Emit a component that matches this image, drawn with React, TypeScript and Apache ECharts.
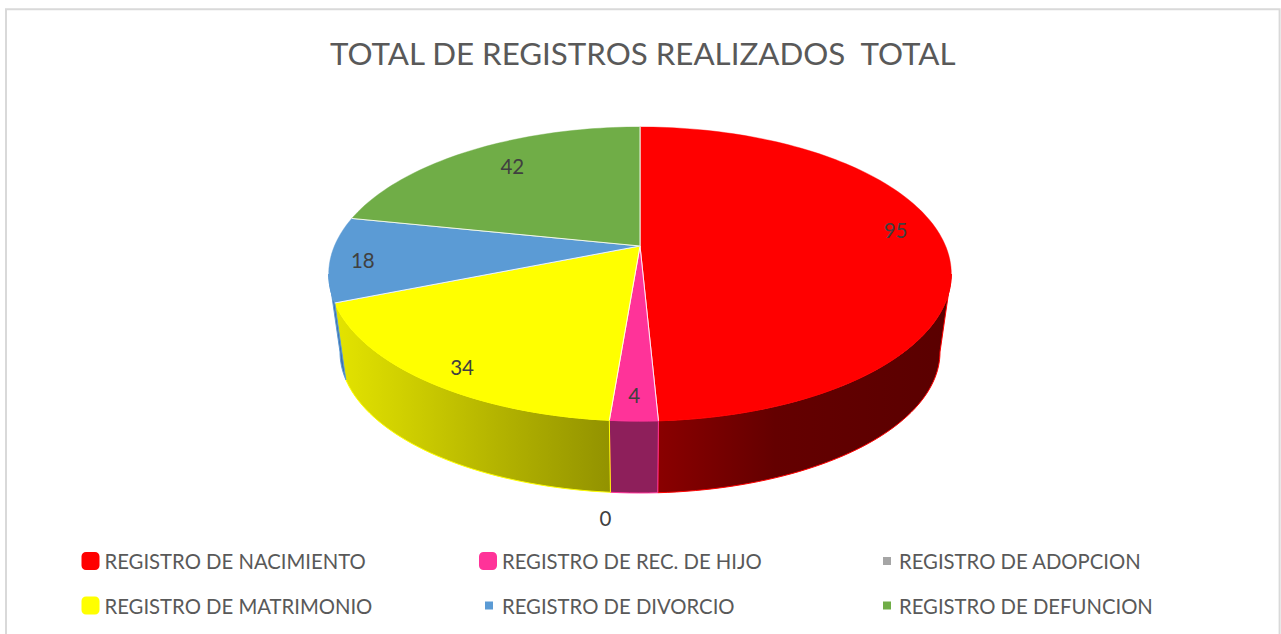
import React, { useEffect, useRef } from "react";
import * as echarts from "echarts";

const titleText = "TOTAL DE REGISTROS REALIZADOS  TOTAL";
const categories = [
  "REGISTRO DE NACIMIENTO",
  "REGISTRO DE REC. DE HIJO",
  "REGISTRO DE ADOPCION",
  "REGISTRO DE MATRIMONIO",
  "REGISTRO DE DIVORCIO",
  "REGISTRO DE DEFUNCION",
];
const values = [95, 4, 0, 34, 18, 42];
const colors = ["#ff0000", "#ff3399", "#a5a5a5", "#ffff00", "#5b9bd5", "#70ad47"];
const wallStops: [number, string][][] = [
  [[0, "#8a0000"], [0.4, "#640000"], [1, "#5a0000"]],
  [[0, "#8e1f5b"], [1, "#8e1f5b"]],
  [[0, "#666666"], [1, "#666666"]],
  [[0, "#e4e400"], [1, "#929200"]],
  [[0, "#3f6fae"], [1, "#3f6fae"]],
  [[0, "#4a7a30"], [1, "#4a7a30"]],
];
// radial placement of each data label, with a small pixel nudge
const labelPlacement = [
  { r: 0.83, dx: 3, dy: -13 },
  { r: 0.88, dx: -0.5, dy: -1 },
  { r: 1.0, dx: -4, dy: 98 },
  { r: 0.87, dx: 4, dy: 6.5 },
  { r: 0.9, dx: 1, dy: 2.5 },
  { r: 0.72, dx: -2, dy: -8.5 },
];
const legendLayout = [
  { left: 81.5, top: 551, big: true, pad: 0 },
  { left: 479, top: 551, big: true, pad: 0 },
  { left: 883, top: 551, big: false, pad: 3 },
  { left: 81.5, top: 595.5, big: true, pad: 0 },
  { left: 485, top: 595.5, big: false, pad: 4 },
  { left: 883, top: 595.5, big: false, pad: 3 },
];

// perspective projection of the two discs of the pie
const CX = 640;
const K = 0.1905;
const topDisc = { y0: 246, A: 305.6, B: 141.7 };
const bottomDisc = { y0: 325.1, A: 294.5, B: 135.9 };
const project = (disc: typeof topDisc, deg: number, r = 1): number[] => {
  const t = (deg * Math.PI) / 180;
  const u = r * Math.sin(t);
  const v = r * Math.cos(t);
  const w = 1 + K * v;
  return [CX + (disc.A * u) / w, disc.y0 - (disc.B * v) / w];
};
const total = values.reduce((a, b) => a + b, 0);
const startAngle = (i: number) => (values.slice(0, i).reduce((a, b) => a + b, 0) / total) * 360;
const frontStart = (Math.acos(-K) * 180) / Math.PI;
const frontEnd = 360 - frontStart;

const arcPoints = (disc: typeof topDisc, a: number, b: number): number[][] => {
  const n = Math.max(2, Math.ceil((b - a) / 1.5));
  const out: number[][] = [];
  for (let i = 0; i <= n; i++) out.push(project(disc, a + ((b - a) * i) / n));
  return out;
};

const renderSlice = (params: any, api: any) => {
  const i = params.seriesIndex;
  const value = api.value(0);
  const a = startAngle(i);
  const b = a + (value / total) * 360;
  const children: any[] = [];
  const wa = Math.max(a, frontStart);
  const wb = Math.min(b, frontEnd);
  if (value > 0 && wb > wa) {
    const topArc = arcPoints(topDisc, wa, wb);
    const botArc = arcPoints(bottomDisc, wa, wb).reverse();
    const pts = topArc.concat(botArc);
    const xs = pts.map((p) => p[0]);
    children.push({
      type: "polygon",
      shape: { points: pts },
      style: {
        fill: new echarts.graphic.LinearGradient(
          Math.min(...xs), 0, Math.max(...xs), 0,
          wallStops[i].map(([offset, color]) => ({ offset, color })),
          true
        ),
        stroke: colors[i],
        lineWidth: 1,
      },
    });
  }
  if (value > 0) {
    const apex = project(topDisc, 0, 0);
    const arc = arcPoints(topDisc, a, b);
    children.push({
      type: "polygon",
      shape: { points: [apex, ...arc] },
      style: { fill: colors[i], stroke: colors[i], lineWidth: 0.4 },
    });
    children.push({
      type: "polyline",
      shape: { points: [arc[0], apex, arc[arc.length - 1]] },
      style: { fill: "none", stroke: "rgba(255,255,255,0.85)", lineWidth: 1 },
    });
  }
  const lp = labelPlacement[i];
  const pos = project(topDisc, (a + b) / 2, lp.r);
  children.push({
    type: "text",
    z2: 50,
    style: {
      x: pos[0] + lp.dx,
      y: pos[1] + lp.dy,
      text: String(value),
      fill: "#404040",
      font: "20.5px Lato",
      align: "center",
      verticalAlign: "middle",
    },
  });
  return { type: "group", children };
};

export default function App() {
  const ref = useRef<HTMLDivElement>(null);
  useEffect(() => {
    const chart = echarts.init(ref.current!, undefined, { renderer: "svg", width: 1281, height: 634 });
    chart.setOption({
      animation: false,
      backgroundColor: "#ffffff",
      title: {
        text: titleText,
        left: 330,
        top: 37,
        padding: 0,
        textStyle: { fontFamily: "Lato", fontSize: 31.3, fontWeight: "normal", color: "#595959" },
      },
      legend: categories.map((name, i) => ({
        left: legendLayout[i].left,
        top: legendLayout[i].top,
        padding: 0,
        selectedMode: false,
        data: [name],
        icon: legendLayout[i].big ? "roundRect" : "rect",
        itemWidth: legendLayout[i].big ? 18 : 8,
        itemHeight: legendLayout[i].big ? 18 : 8,
        itemStyle: { color: colors[i], borderWidth: 0 },
        textStyle: {
          fontFamily: "Lato",
          fontSize: 20.3,
          color: "#595959",
          padding: [0, 0, 0, legendLayout[i].pad],
        },
      })),
      graphic: [
        {
          type: "polyline",
          silent: true,
          z: -1,
          shape: { points: [[6, 634], [6, 9.3], [1279.6, 9.3], [1279.6, 634]] },
          style: { fill: "none", stroke: "#d9d9d9", lineWidth: 2 },
        },
      ],
      series: categories.map((name, i) => ({
        type: "custom",
        name,
        coordinateSystem: "none",
        silent: true,
        itemStyle: { color: colors[i] },
        data: [[values[i]]],
        renderItem: renderSlice,
      })),
    });
    return () => chart.dispose();
  }, []);
  return <div ref={ref} style={{ position: "absolute", left: 0, top: 0, width: 1281, height: 634 }} />;
}
